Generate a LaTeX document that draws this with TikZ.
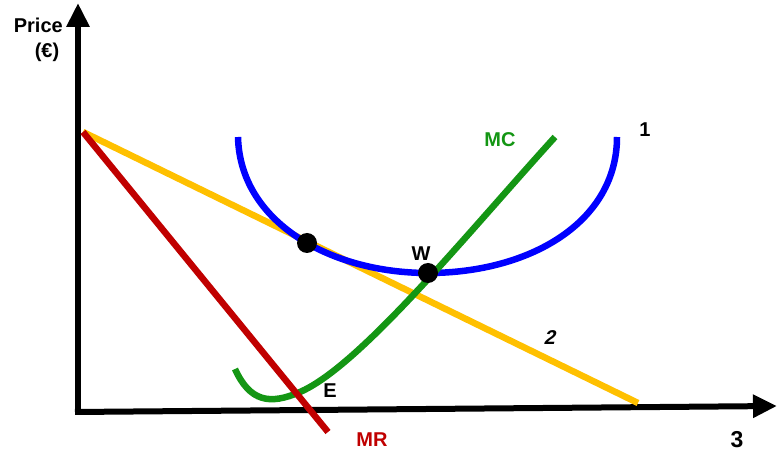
\documentclass[tikz,border=0pt]{standalone}
\usepackage{fontspec}
\setmainfont{Liberation Sans}
\usetikzlibrary{arrows.meta}
\definecolor{cblue}{RGB}{0,0,255}
\definecolor{cgreen}{RGB}{20,150,20}
\definecolor{cyellow}{RGB}{255,192,0}
\definecolor{cred}{RGB}{192,0,0}
\begin{document}
\begin{tikzpicture}[x=1pt,y=-1pt,
  axis/.style={line width=6pt,-{Triangle[length=24pt,width=22pt]}},
  curve/.style={line width=6.5pt},
  lbl/.style={font=\bfseries\fontsize{20}{22}\selectfont,inner sep=0pt},
  dot/.style={circle,fill=black,minimum size=20pt,inner sep=0pt}]
\useasboundingbox (0,0) rectangle (777,454);
% axes
\coordinate (O) at (78,412);
\coordinate (ytop) at (78,3);
\coordinate (xend) at (777,406);
\draw[axis] (O) -- (ytop);
\draw[axis] ([xshift=-3pt]O) -- (xend);
% demand (yellow) and MR (red)
\coordinate (A) at (83,132);
\coordinate (Dend) at (638,403);
\coordinate (MRend) at (328,432);
\draw[curve,cyellow] (A) -- (Dend);
% blue ATC
\coordinate (B1) at (238,137);
\coordinate (Bmin) at (428,273);
\coordinate (B2) at (617,137);
\draw[curve,cblue] (B1) .. controls (240,222) and (330,273) .. (Bmin)
  .. controls (530,273) and (617,222) .. (B2);
% green MC
\coordinate (G1) at (235,369);
\coordinate (Gm) at (300,392);
\coordinate (G2) at (555,137);
\draw[curve,cgreen] (G1) .. controls (250,402) and (270,405) .. (Gm)
  .. controls (360,366) and (465,236) .. (G2);
\draw[curve,cred] (A) -- (MRend);
% dots
\node[dot] (d1) at (307,243) {};
\node[dot] (W) at (428,273) {};
% labels
\node[lbl,anchor=east] (price) at (63,25) {Price};
\node[lbl] (euro) at (47,52) {(€)};
\node[lbl,cgreen] (mc) at (500,140) {MC};
\node[lbl] (one) at (645,130) {1};
\node[lbl] (wl) at (421,254) {W};
\node[lbl,xslant=0.25] (two) at (551,338) {2};
\node[lbl] (el) at (330,391) {E};
\node[lbl,cred] (mr) at (372,440) {MR};
\node[lbl,font=\bfseries\fontsize{23}{25}\selectfont] (three) at (737,440) {3};
\end{tikzpicture}
\end{document}
